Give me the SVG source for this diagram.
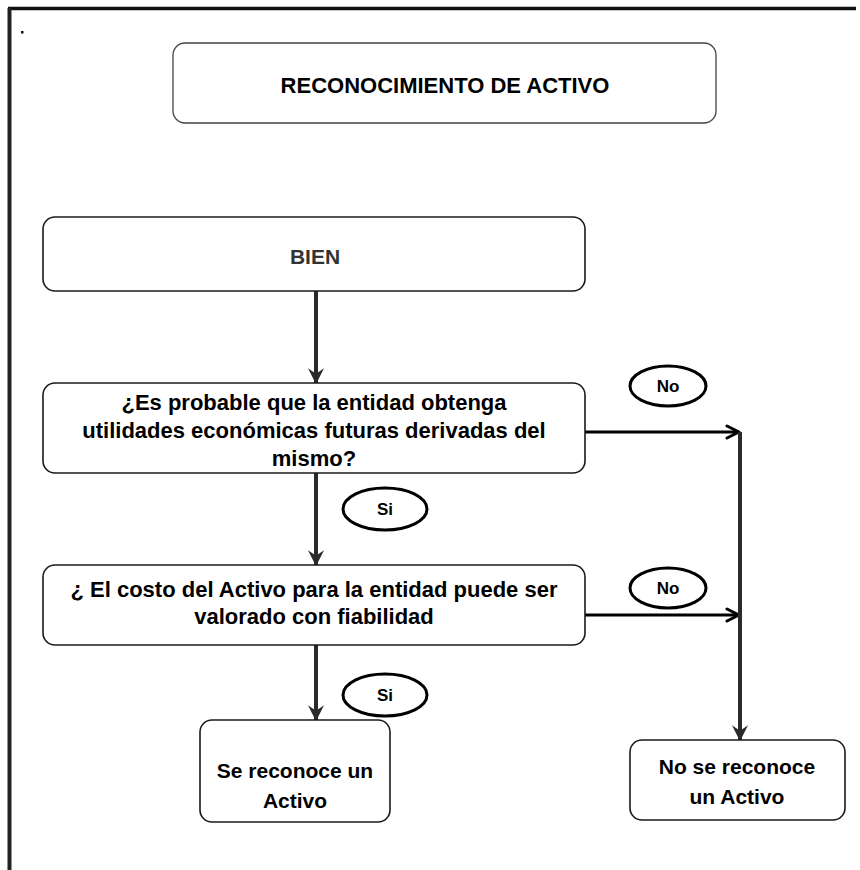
<svg xmlns="http://www.w3.org/2000/svg" width="860" height="870" viewBox="0 0 860 870">
<defs>
<style>
.box{fill:#fff;stroke:#1a1a1a;stroke-width:1.6}
.tbox{fill:#fff;stroke:#444;stroke-width:1.3}
.oval{fill:#fff;stroke:#000;stroke-width:3}
.t{font-family:"Liberation Sans",Arial,sans-serif;font-weight:bold;fill:#000;text-anchor:middle}
.vline{stroke:#2a2a2a;stroke-width:4;fill:none}
.hline{stroke:#000;stroke-width:3;fill:none}
</style>
<marker id="down" markerUnits="userSpaceOnUse" markerWidth="16" markerHeight="16" viewBox="0 0 14 14" refX="13" refY="7" orient="auto">
<path d="M0,0 L14,7 L0,14 L5,7 z" fill="#2a2a2a"/>
</marker>
<marker id="open" markerUnits="userSpaceOnUse" markerWidth="16" markerHeight="16" viewBox="0 0 16 16" refX="14" refY="8" orient="auto">
<path d="M2,2 L14,8 L2,14" fill="none" stroke="#000" stroke-width="3" stroke-linecap="round" stroke-linejoin="round"/>
</marker>
</defs>
<rect width="860" height="870" fill="#fff"/>
<g id="frame">
<path d="M8,8.5 H856" stroke="#111" stroke-width="3.5"/>
<path d="M9.5,8 V870" stroke="#222" stroke-width="4"/>
<rect x="21" y="31" width="2.5" height="2.5" fill="#111"/>
</g>
<g id="connectors">
<line class="vline" x1="316" y1="291" x2="316" y2="383" marker-end="url(#down)"/>
<line class="vline" x1="316" y1="473" x2="316" y2="565" marker-end="url(#down)"/>
<line class="vline" x1="316" y1="645" x2="316" y2="720" marker-end="url(#down)"/>
<line class="hline" x1="585" y1="432" x2="739" y2="432" marker-end="url(#open)"/>
<line class="hline" x1="585" y1="615" x2="739" y2="615" marker-end="url(#open)"/>
<line class="vline" x1="740" y1="432" x2="740" y2="740" stroke-width="5" marker-end="url(#down)"/>
</g>
<g id="title">
<rect class="tbox" x="173" y="43" width="543" height="80" rx="12"/>
<text class="t" x="445" y="93" font-size="22">RECONOCIMIENTO DE ACTIVO</text>
</g>
<g id="bien">
<rect class="box" x="43" y="217" width="542" height="74" rx="12"/>
<text class="t" x="315" y="264" font-size="21" style="fill:#333">BIEN</text>
</g>
<g id="q1">
<rect class="box" x="43" y="383" width="542" height="90" rx="12"/>
<text class="t" x="314" y="410" font-size="22">¿Es probable que la entidad obtenga</text>
<text class="t" x="314" y="438" font-size="22">utilidades económicas futuras derivadas del</text>
<text class="t" x="314" y="466" font-size="22">mismo?</text>
</g>
<g id="no1">
<ellipse class="oval" cx="668" cy="386" rx="38" ry="20"/>
<text class="t" x="668" y="392" font-size="17">No</text>
</g>
<g id="si1">
<ellipse class="oval" cx="385" cy="509" rx="42" ry="21"/>
<text class="t" x="385" y="515" font-size="17">Si</text>
</g>
<g id="q2">
<rect class="box" x="43" y="565" width="542" height="80" rx="12"/>
<text class="t" x="314" y="597" font-size="22">¿ El costo del Activo para la entidad puede ser</text>
<text class="t" x="314" y="624" font-size="22">valorado con fiabilidad</text>
</g>
<g id="no2">
<ellipse class="oval" cx="668" cy="588" rx="38" ry="20"/>
<text class="t" x="668" y="594" font-size="17">No</text>
</g>
<g id="si2">
<ellipse class="oval" cx="385" cy="695" rx="42" ry="21"/>
<text class="t" x="385" y="701" font-size="17">Si</text>
</g>
<g id="si-activo">
<rect class="box" x="200" y="720" width="190" height="102" rx="12"/>
<text class="t" x="295" y="778" font-size="21">Se reconoce un</text>
<text class="t" x="295" y="808" font-size="21">Activo</text>
</g>
<g id="no-activo">
<rect class="box" x="630" y="740" width="215" height="80" rx="12"/>
<text class="t" x="737" y="774" font-size="21">No se reconoce</text>
<text class="t" x="737" y="804" font-size="21">un Activo</text>
</g>
</svg>
